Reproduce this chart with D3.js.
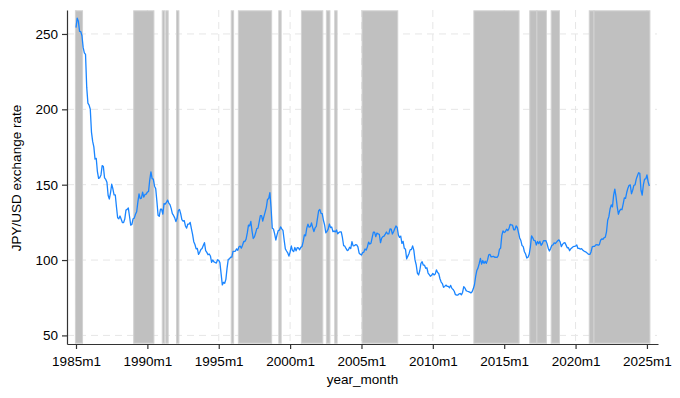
<!DOCTYPE html>
<html>
<head>
<meta charset="utf-8">
<script src="https://cdn.jsdelivr.net/npm/d3@7"></script>
<style>
body{margin:0;background:#fff;}
text{font-family:"Liberation Sans",Arial,sans-serif;fill:#000;}
</style>
</head>
<body>
<div id="chart"></div>
<script>
// monthly JPY/USD rate, first value is 1985m1
var startYear = 1985;
var rate = [
  254.2,260.5,258.4,251.7,251.6,248.8,241.1,237.5,236.5,214.7,204.1,202.8, // 1985
  200.1,184.9,178.7,175.1,167.0,167.5,158.6,154.2,154.7,156.5,162.7,162.1, // 1986
  154.5,153.5,151.6,143.0,140.5,144.5,150.3,147.3,143.3,143.3,135.4,128.1, // 1987
  127.4,129.2,127.1,124.9,124.8,127.2,133.1,133.6,134.5,128.9,123.2,123.6, // 1988
  127.4,127.8,130.4,132.0,138.4,143.9,140.8,141.1,145.1,141.8,143.5,143.7, // 1989
  145.1,145.5,153.2,158.5,154.0,153.7,149.0,147.5,139.0,129.7,129.0,133.7, // 1990
  133.7,130.5,137.4,137.1,138.2,139.8,137.8,136.8,134.3,130.8,129.6,128.0, // 1991
  125.5,127.7,132.7,133.6,130.8,126.8,125.8,126.2,122.6,121.2,123.9,123.9, // 1992
  125.0,120.8,117.1,112.2,110.3,107.4,107.7,103.8,105.1,107.0,107.7,109.7, // 1993
  111.5,106.3,105.1,103.5,104.0,102.7,98.5,100.0,98.8,98.4,98.0,100.2,     // 1994
  99.8,98.2,90.8,83.5,85.2,84.6,87.2,94.6,100.5,100.8,101.9,101.9,         // 1995
  105.8,105.8,105.9,107.4,106.5,108.8,109.2,107.9,109.8,112.3,112.3,113.9, // 1996
  118.0,123.2,122.7,125.6,119.2,114.3,115.4,117.9,120.9,121.1,125.4,129.5, // 1997
  129.5,125.9,129.0,131.8,135.0,140.3,140.7,144.7,134.5,121.1,120.6,117.4, // 1998
  113.3,116.7,119.5,119.8,122.0,120.7,119.7,113.3,107.4,106.0,104.8,102.6, // 1999
  105.3,109.4,106.3,105.6,108.3,106.1,108.2,108.1,106.8,108.4,109.0,112.2, // 2000
  116.7,116.1,121.2,123.8,121.8,122.2,124.6,121.5,118.9,121.3,122.3,127.6, // 2001
  132.7,133.6,131.0,130.8,126.4,123.3,118.1,119.0,120.5,123.9,121.5,121.9, // 2002
  118.8,119.3,118.7,119.9,117.4,118.3,118.7,118.7,114.8,109.5,109.2,107.7, // 2003
  106.3,106.7,108.5,107.7,112.2,109.4,109.5,110.2,110.0,108.8,104.7,103.8, // 2004
  103.3,104.9,105.3,107.3,106.6,108.8,111.9,110.6,111.2,114.9,118.5,118.5, // 2005
  115.5,117.9,117.3,117.1,111.5,114.6,115.6,115.9,117.2,118.6,117.3,117.3, // 2006
  120.6,120.5,117.3,118.8,120.8,122.6,121.6,116.7,115.0,115.9,111.1,112.4, // 2007
  107.8,107.1,100.8,102.6,104.4,106.9,106.9,109.4,106.6,100.1,96.9,91.3,   // 2008
  90.1,92.9,97.8,98.9,96.6,96.6,94.5,94.9,91.4,90.3,89.2,89.9,             // 2009
  91.1,90.1,90.7,93.5,91.8,90.9,87.6,85.4,84.4,81.9,82.5,83.4,             // 2010
  82.6,82.5,81.6,83.2,81.2,80.5,79.3,77.0,76.8,76.7,77.5,77.8,             // 2011
  76.9,78.5,82.4,81.4,79.7,79.3,79.0,78.7,78.2,78.9,80.9,83.6,             // 2012
  89.1,93.1,94.8,97.7,101.1,97.3,99.7,97.8,99.2,97.8,100.1,103.5,          // 2013
  103.8,102.1,102.3,102.5,101.8,102.0,101.7,102.9,107.1,108.0,116.4,119.3, // 2014
  118.3,118.8,120.4,119.5,120.8,123.7,123.3,123.1,120.1,120.1,122.6,121.6, // 2015
  118.2,114.7,112.9,109.6,108.9,105.5,104.0,101.3,101.9,103.8,108.6,116.0, // 2016
  114.7,113.0,112.9,110.0,112.3,110.9,112.4,109.8,110.8,112.9,112.8,112.9, // 2017
  110.9,107.9,106.0,107.6,109.7,110.0,111.4,111.0,111.9,112.8,113.4,112.1, // 2018
  108.9,110.4,111.2,111.6,109.9,108.1,108.2,106.2,107.5,108.2,108.9,109.1, // 2019
  109.3,110.0,107.7,107.8,107.2,107.6,106.7,106.0,105.6,105.2,104.4,103.8, // 2020
  103.7,105.4,108.7,109.1,109.1,110.1,110.2,109.8,110.2,113.1,114.0,113.8, // 2021
  114.8,115.2,118.7,126.4,128.8,133.9,136.6,135.3,143.1,147.1,142.1,135.4, // 2022
  130.4,132.7,133.7,133.4,137.1,141.2,140.9,144.8,147.7,149.6,149.8,144.0, // 2023
  146.3,149.6,149.8,153.7,155.9,157.9,157.5,146.3,143.1,149.8,153.7,153.8, // 2024
  156.5,151.9,149.1                                                        // 2025
];

// shaded periods (first and last month of each)
var bandStart = ["1985m1","1989m2","1991m2","1991m5","1992m2","1995m12","1996m6","1999m4","2000m11","2002m8","2003m3","2005m2","2012m12","2016m11","2017m5","2018m5","2021m1","2021m5"];
var bandEnd   = ["1985m6","1990m6","1991m3","1991m6","1992m3","1996m1","1998m9","1999m5","2002m4","2002m10","2003m4","2007m7","2016m1","2017m4","2017m12","2018m11","2021m4","2025m3"];

var xTickLabels = ["1985m1","1990m1","1995m1","2000m1","2005m1","2010m1","2015m1","2020m1","2025m1"];
var yTicks = [50,100,150,200,250];

// "1990m6" -> months since startYear m1
const monthIndex = (s) => {
    var p = s.split("m");
    return (+p[0]-startYear)*12 + (+p[1]) - 1;
}

var margin = {top: 10, right: 22, bottom: 54, left: 67},
    width = 680 - margin.left - margin.right,
    height = 398 - margin.top - margin.bottom;

var svg = d3.select("#chart")
    .append("svg")
    .attr("width", width + margin.left + margin.right)
    .attr("height", height + margin.top + margin.bottom)
    .append("g")
    .attr("transform", "translate(" + margin.left + "," + margin.top + ")");

var x = d3.scaleLinear()
    .domain([-7.57, 489.3])
    .range([0, width]);

var y = d3.scaleLinear()
    .domain([44.3, 265.9])
    .range([height, 0]);

var xTicks = xTickLabels.map(monthIndex);

// gridlines
svg.append("g")
    .selectAll("line")
    .data(yTicks)
    .enter().append("line")
    .attr("x1", 0).attr("x2", width - 1)
    .attr("y1", d => y(d)).attr("y2", d => y(d))
    .style("stroke", "#e6e6e6")
    .style("stroke-dasharray", "7,5");

svg.append("g")
    .selectAll("line")
    .data(xTicks)
    .enter().append("line")
    .attr("x1", d => x(d)).attr("x2", d => x(d))
    .attr("y1", 0).attr("y2", height)
    .style("stroke", "#e6e6e6")
    .style("stroke-dasharray", "7,5");

// shaded bands
var bands = bandStart.map((s, i) => ({a: monthIndex(s), b: monthIndex(bandEnd[i])}));

svg.append("g")
    .selectAll("rect")
    .data(bands)
    .enter().append("rect")
    .attr("x", d => x(d.a - 0.5))
    .attr("width", d => x(d.b + 0.5) - x(d.a - 0.5))
    .attr("y", 0.8)
    .attr("height", height - 1.6)
    .style("fill", "#c0c0c0")
    .style("stroke", "#d2d2d2")
    .style("stroke-width", 1);

// the line
var line = d3.line()
    .x((d, i) => x(i))
    .y(d => y(d));

svg.append("path")
    .datum(rate)
    .attr("d", line)
    .style("fill", "none")
    .style("stroke", "#1a85ff")
    .style("stroke-width", "1.3px")
    .style("stroke-linejoin", "round");

// axes
var xAxis = svg.append("g")
    .attr("transform", "translate(0," + height + ")")
    .call(d3.axisBottom(x)
        .tickValues(xTicks)
        .tickFormat((d, i) => xTickLabels[i])
        .tickSize(5)
        .tickSizeOuter(0)
        .tickPadding(7));

var yAxis = svg.append("g")
    .call(d3.axisLeft(y)
        .tickValues(yTicks)
        .tickSize(5)
        .tickSizeOuter(0)
        .tickPadding(4));

[xAxis, yAxis].forEach(g => {
    g.selectAll("path, line").style("stroke", "#333").style("stroke-width", 1.2);
    g.selectAll("text").style("font-size", "13.5px").style("fill", "#000");
});

// titles
svg.append("text")
    .attr("x", width / 2)
    .attr("y", 374)
    .attr("text-anchor", "middle")
    .style("font-size", "13.5px")
    .text("year_month");

svg.append("text")
    .attr("transform", "rotate(-90)")
    .attr("x", -(height / 2 + 1))
    .attr("y", -46)
    .attr("text-anchor", "middle")
    .style("font-size", "13.5px")
    .text("JPY/USD exchange rate");
</script>
</body>
</html>
